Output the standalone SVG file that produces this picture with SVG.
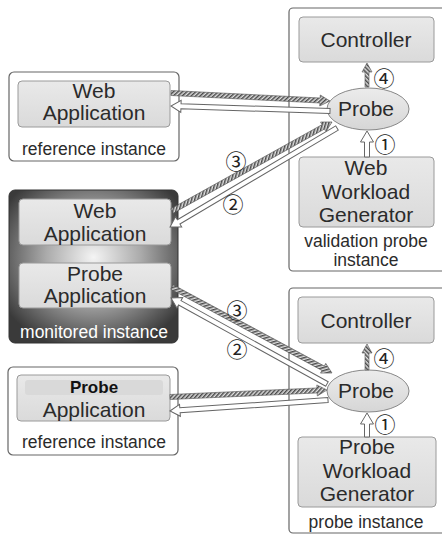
<svg xmlns="http://www.w3.org/2000/svg" width="442" height="534" viewBox="0 0 442 534">
<defs>
<style>
.inst{fill:#fff;stroke:#666;stroke-width:1.2}
.box{fill:url(#boxg);stroke:#9a9a9a;stroke-width:1}
.t{font-family:"Liberation Sans",Arial,sans-serif;font-size:21px;fill:#2b2b2b;text-anchor:middle}
.s{font-family:"Liberation Sans",Arial,sans-serif;font-size:17.5px;fill:#2b2b2b;text-anchor:middle}
.num{font-family:"Noto Sans CJK SC","DejaVu Sans",sans-serif;font-size:21px;fill:#222;text-anchor:middle;dominant-baseline:central}
.hat{fill:url(#hatch);stroke:#555;stroke-width:0.6}
.hol{fill:#fff;stroke:#666;stroke-width:1}
.ell{fill:url(#ellg);stroke:#888;stroke-width:1}
</style>
<linearGradient id="boxg" x1="0" y1="0" x2="0" y2="1">
<stop offset="0" stop-color="#e9e9e9"/><stop offset="1" stop-color="#dadada"/>
</linearGradient>
<linearGradient id="ellg" x1="0" y1="0" x2="0" y2="1">
<stop offset="0" stop-color="#ececec"/><stop offset="1" stop-color="#d6d6d6"/>
</linearGradient>
<radialGradient id="mon" cx="50%" cy="44%" r="62%">
<stop offset="0" stop-color="#f4f4f4"/><stop offset="0.45" stop-color="#ababab"/><stop offset="1" stop-color="#3a3a3a"/>
</radialGradient>
<pattern id="hatch" width="3" height="3" patternUnits="userSpaceOnUse" patternTransform="rotate(45)">
<rect width="3" height="3" fill="#e0e0e0"/><rect width="1.5" height="3" fill="#4a4a4a"/>
</pattern>
</defs>

<g id="ref-web-instance">
<rect class="inst" x="9" y="72" width="170" height="89" rx="5"/>
<rect class="box" x="18" y="81" width="152" height="46" rx="4"/>
<text class="t" x="94" y="98">Web</text>
<text class="t" x="94" y="120">Application</text>
<text class="s" x="94" y="155">reference instance</text>
</g>

<g id="validation-probe-instance">
<rect class="inst" x="289" y="8" width="160" height="263" rx="4"/>
<text class="s" x="366" y="247">validation probe</text>
<text class="s" x="366" y="266">instance</text>
</g>
<g id="controller-top">
<rect class="box" x="299" y="17" width="135" height="45" rx="4"/>
<text class="t" x="366" y="47">Controller</text>
</g>
<g id="probe-top">
<ellipse class="ell" cx="368" cy="109" rx="41" ry="21"/>
<text class="t" x="366" y="116">Probe</text>
</g>
<g id="web-workload-generator">
<rect class="box" x="299" y="157" width="135" height="70" rx="4"/>
<text class="t" x="366" y="175">Web</text>
<text class="t" x="366" y="199">Workload</text>
<text class="t" x="366" y="222">Generator</text>
</g>

<g id="monitored-instance">
<rect x="9" y="190" width="169" height="153" rx="6" fill="url(#mon)" stroke="#333" stroke-width="1"/>
<rect class="box" x="19" y="199" width="152" height="46" rx="4"/>
<text class="t" x="95" y="218">Web</text>
<text class="t" x="95" y="241">Application</text>
<rect class="box" x="19" y="263" width="152" height="45" rx="4"/>
<text class="t" x="95" y="281">Probe</text>
<text class="t" x="95" y="303">Application</text>
<text class="s" x="94" y="338" style="fill:#fff">monitored instance</text>
</g>

<g id="ref-probe-instance">
<rect class="inst" x="8" y="367" width="170" height="88" rx="5"/>
<rect class="box" x="17" y="375" width="153" height="46" rx="4"/>
<rect x="25" y="380" width="138" height="15" rx="3" fill="#d9d9d9"/>
<text class="s" x="94" y="393" style="font-weight:bold;font-size:17px;fill:#111">Probe</text>
<text class="t" x="94" y="417">Application</text>
<text class="s" x="94" y="448">reference instance</text>
</g>

<g id="probe-instance">
<rect class="inst" x="289" y="288" width="160" height="245" rx="4"/>
<text class="s" x="366" y="528">probe instance</text>
</g>
<g id="controller-bottom">
<rect class="box" x="298" y="297" width="136" height="46" rx="4"/>
<text class="t" x="366" y="328">Controller</text>
</g>
<g id="probe-bottom">
<ellipse class="ell" cx="368" cy="391" rx="41" ry="21"/>
<text class="t" x="366" y="398">Probe</text>
</g>
<g id="probe-workload-generator">
<rect class="box" x="298" y="437" width="138" height="70" rx="4"/>
<text class="t" x="367" y="454">Probe</text>
<text class="t" x="367" y="478">Workload</text>
<text class="t" x="367" y="501">Generator</text>
</g>

<g id="connectors">
<path class="hat" transform="translate(171,93) rotate(2.88)" d="M0,-2.5 H149.2 V-5.5 L159.2,0 L149.2,5.5 V2.5 H0 Z"/>
<path class="hol" transform="translate(330,111) rotate(-178.2)" d="M0,-2.5 H149.1 V-6 L159.1,0 L149.1,6 V2.5 H0 Z"/>
<path class="hat" transform="translate(172,211) rotate(-29.09)" d="M0,-2.5 H173.1 V-5.5 L183.1,0 L173.1,5.5 V2.5 H0 Z"/>
<path class="hol" transform="translate(337,128) rotate(149.34)" d="M0,-2.5 H184.1 V-6 L194.1,0 L184.1,6 V2.5 H0 Z"/>
<path class="hat" transform="translate(172,287) rotate(28.26)" d="M0,-2.5 H171.6 V-5.5 L181.6,0 L171.6,5.5 V2.5 H0 Z"/>
<path class="hol" transform="translate(327,384) rotate(-151.13)" d="M0,-2.5 H168.1 V-6 L178.1,0 L168.1,6 V2.5 H0 Z"/>
<path class="hat" transform="translate(170,397) rotate(-2.55)" d="M0,-2.5 H147.2 V-5.5 L157.2,0 L147.2,5.5 V2.5 H0 Z"/>
<path class="hol" transform="translate(328,400) rotate(176.02)" d="M0,-2.5 H148.4 V-6 L158.4,0 L148.4,6 V2.5 H0 Z"/>
<path class="hol" transform="translate(367,157) rotate(-90)" d="M0,-2.5 H15 V-6.5 L26,0 L15,6.5 V2.5 H0 Z"/>
<path class="hat" transform="translate(367,87) rotate(-90)" d="M0,-2 H15 V-5 L24,0 L15,5 V2 H0 Z"/>
<path class="hat" transform="translate(367,370) rotate(-90)" d="M0,-2 H17 V-5 L26,0 L17,5 V2 H0 Z"/>
<path class="hol" transform="translate(367,437) rotate(-90)" d="M0,-2.5 H13 V-6.5 L24,0 L13,6.5 V2.5 H0 Z"/>
<text class="num" x="384" y="77">④</text>
<text class="num" x="385" y="143">①</text>
<text class="num" x="236" y="160">③</text>
<text class="num" x="233" y="203">②</text>
<text class="num" x="237" y="309">③</text>
<text class="num" x="237" y="348">②</text>
<text class="num" x="384" y="357">④</text>
<text class="num" x="385" y="423">①</text>
</g>
</svg>
